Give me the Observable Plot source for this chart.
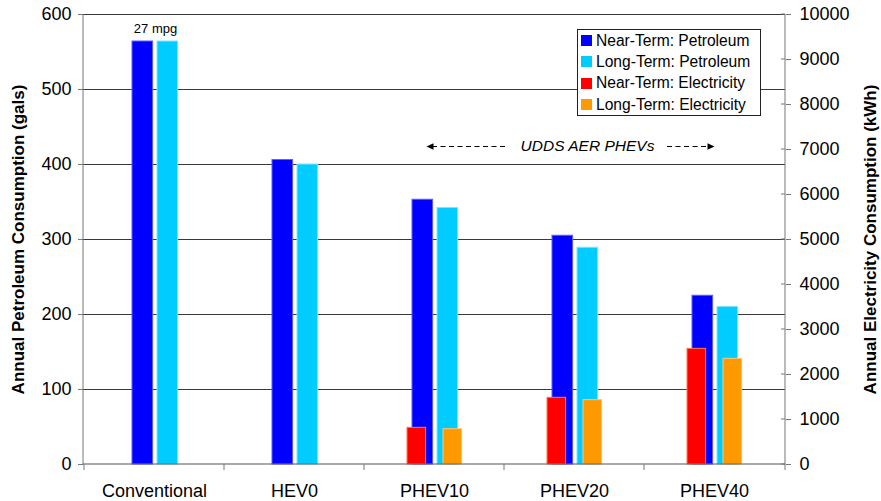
<!DOCTYPE html>
<html><head><meta charset="utf-8">
<script src="https://cdn.jsdelivr.net/npm/d3@7"></script>
<script src="https://cdn.jsdelivr.net/npm/@observablehq/plot@0.6"></script>
<style>
body{margin:0;background:#fff;}
#wrap{position:relative;width:881px;height:501px;font-family:"Liberation Sans",Arial,sans-serif;}
#legend{position:absolute;left:577px;top:29px;width:184px;height:87px;border:1px solid #222;background:#fff;box-sizing:border-box;padding:0 0 0 3px;}
.row{display:flex;align-items:center;height:21.3px;font-size:15.6px;color:#000;white-space:nowrap;}
.sw{width:11px;height:11px;margin-right:4px;flex:none;}
</style></head>
<body><div id="wrap"></div>
<script>
// ---- data ----
const categories = ["Conventional", "HEV0", "PHEV10", "PHEV20", "PHEV40"];
const nearTermPetroleum = [564, 406, 353, 305, 225];      // gallons
const longTermPetroleum = [564, 400, 342, 289, 210];      // gallons
const nearTermElectricity = [null, null, 815, 1482, 2570]; // kWh
const longTermElectricity = [null, null, 785, 1430, 2348]; // kWh
const seriesNames = ["Near-Term: Petroleum", "Long-Term: Petroleum", "Near-Term: Electricity", "Long-Term: Electricity"];
const seriesColors = ["#0000ff", "#00ccff", "#ff0000", "#ff9900"];
const galTicks = [0, 100, 200, 300, 400, 500, 600];
const kwhTicks = [0, 1000, 2000, 3000, 4000, 5000, 6000, 7000, 8000, 9000, 10000];
const galMax = 600, kwhMax = 10000;
const mpgLabel = "27 mpg";
const annotationText = "UDDS AER PHEVs";

const k2g = v => v == null ? null : v * galMax / kwhMax;
const rows = categories.map((c, i) => ({
  category: c,
  nearP: nearTermPetroleum[i], longP: longTermPetroleum[i],
  nearE: k2g(nearTermElectricity[i]), longE: k2g(longTermElectricity[i])
}));

const font = "'Liberation Sans', Arial, sans-serif";
const chart = Plot.plot({
  width: 881, height: 501,
  marginLeft: 83, marginRight: 96, marginTop: 14, marginBottom: 37,
  style: {fontFamily: font, fontSize: "18px", background: "white", color: "#000"},
  x: {domain: categories, padding: 0, label: null},
  y: {domain: [0, galMax], label: null},
  marks: [
    Plot.ruleY(galTicks.filter(d => d > 0), {stroke: "#3a3a3a", strokeWidth: 1}),
    Plot.barY(rows, {x: "category", y: "nearP", fill: seriesColors[0], stroke: "#5c5cff", strokeWidth: 1, insetLeft: 48, insetRight: 71.4}),
    Plot.barY(rows, {x: "category", y: "longP", fill: seriesColors[1], stroke: "#7fe3ff", strokeWidth: 1, insetLeft: 73, insetRight: 46.4}),
    Plot.barY(rows, {x: "category", y: "nearE", fill: seriesColors[2], stroke: "#ff7a4a", strokeWidth: 1, insetLeft: 43, insetRight: 78.4}),
    Plot.barY(rows, {x: "category", y: "longE", fill: seriesColors[3], stroke: "#ffc47a", strokeWidth: 1, insetLeft: 79, insetRight: 42.4}),
    Plot.axisX({tickSize: 0, tickPadding: 20, fontSize: 18, label: null}),
    Plot.axisY({anchor: "left", ticks: galTicks, tickSize: 5, tickPadding: 7, stroke: "#777", fontSize: 18, label: null}),
    Plot.axisY({anchor: "right", ticks: kwhTicks.map(k2g), tickFormat: d => String(Math.round(d * kwhMax / galMax)), tickSize: 5, tickPadding: 9, stroke: "#777", fontSize: 18, label: null}),
    Plot.text(["Annual Petroleum Consumption (gals)"], {frameAnchor: "left", dx: -65, rotate: -90, textAnchor: "middle", lineAnchor: "middle", fontWeight: "bold", fontSize: 17}),
    Plot.text(["Annual Electricity Consumption (kWh)"], {frameAnchor: "right", dx: 85, dy: 0, rotate: -90, textAnchor: "middle", lineAnchor: "middle", fontWeight: "bold", fontSize: 17}),
    Plot.text([mpgLabel], {x: () => categories[0], y: () => nearTermPetroleum[0], dx: 1, dy: -13, fontSize: 13}),
    Plot.text([annotationText], {x: () => "PHEV20", y: () => 424, dx: 13, fontStyle: "italic", fontSize: 15.5})
  ]
});

document.getElementById("wrap").appendChild(chart);

// ---- decorations: axis lines, ticks, annotation arrows ----
const svg = d3.select(chart);
const xs = chart.scale("x"), ys = chart.scale("y");
const [xl, xr] = xs.range;
const y0 = ys.apply(0), yTop = ys.apply(galMax);
const g = svg.append("g").attr("stroke", "#777").attr("stroke-width", 1).attr("fill", "none");
g.append("line").attr("x1", xl).attr("x2", xl).attr("y1", yTop).attr("y2", y0 + 0.5);
g.append("line").attr("x1", xr).attr("x2", xr).attr("y1", yTop).attr("y2", y0 + 0.5);
g.append("line").attr("x1", xl).attr("x2", xr).attr("y1", y0).attr("y2", y0).attr("stroke", "#555");
const bounds = categories.map(c => xs.apply(c)).concat([xr]);
bounds.forEach(b => g.append("line").attr("x1", b).attr("x2", b).attr("y1", y0).attr("y2", y0 + 6));
kwhTicks.forEach(k => g.append("line").attr("x1", xr - 4).attr("x2", xr).attr("y1", ys.apply(k2g(k))).attr("y2", ys.apply(k2g(k))));

// dashed arrows around the annotation
const bw = xs.bandwidth;
const cx = c => xs.apply(c) + bw / 2;
const ya = ys.apply(424) + 0.5;
const arrows = [
  {from: cx("PHEV20") - 69, to: cx("PHEV10") - 7.5},
  {from: cx("PHEV20") + 93, to: cx("PHEV40") + 0.5}
];
const a = svg.append("g");
arrows.forEach(({from, to}) => {
  const dir = Math.sign(to - from);
  a.append("line").attr("x1", from).attr("x2", to - dir * 5).attr("y1", ya).attr("y2", ya)
    .attr("stroke", "#000").attr("stroke-width", 1.2).attr("stroke-dasharray", "5,3.5");
  a.append("path").attr("d", `M${to},${ya}L${to - dir * 7},${ya - 3.2}L${to - dir * 7},${ya + 3.2}Z`).attr("fill", "#000");
});

// legend overlay
const legend = document.createElement("div");
legend.id = "legend";
seriesNames.forEach((n, i) => {
  const r = document.createElement("div");
  r.className = "row";
  r.innerHTML = `<span class="sw" style="background:${seriesColors[i]}"></span><span>${n}</span>`;
  legend.appendChild(r);
});
document.getElementById("wrap").appendChild(legend);
</script>
</body></html>
